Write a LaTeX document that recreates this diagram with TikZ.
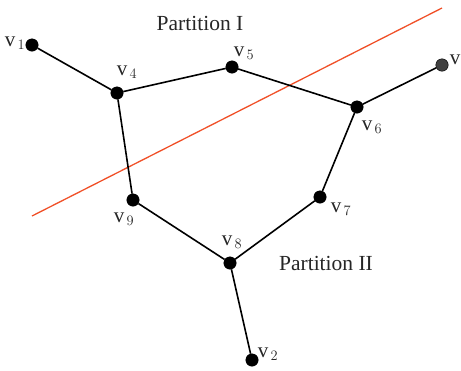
\documentclass[tikz,border=0pt]{standalone}
\usepackage{fontspec}
\setmainfont{Liberation Serif}
\begin{document}
\begin{tikzpicture}[x=1pt,y=-1pt,
  vtx/.style={circle,fill=black,draw=black,inner sep=0pt,minimum size=12.5pt},
  edge/.style={line width=1.6pt,black},
  cut/.style={line width=1.3pt,color={rgb,255:red,240;green,80;blue,40}},
  lab/.style={font=\fontsize{21}{24}\selectfont,inner sep=0pt,text=black!85},
  part/.style={font=\fontsize{21.5}{24}\selectfont,inner sep=0pt,text=black!85}]
\useasboundingbox (0,0) rectangle (461,370);
\clip (0,0) rectangle (461,370);
\node[vtx] (v1) at (32,45) {};
\node[vtx] (v4) at (117,93) {};
\node[vtx] (v5) at (232,67) {};
\node[vtx] (v6) at (357,107) {};
\node[vtx,fill=black!75] (v3) at (442,65) {};
\node[vtx] (v7) at (320,197) {};
\node[vtx] (v8) at (230,263) {};
\node[vtx] (v9) at (133,200) {};
\node[vtx] (v2) at (252,360) {};
\coordinate (c1) at (32,216);
\coordinate (c2) at (442,8);
\draw[cut] (c1) -- (c2);
\draw[edge] (v1) -- (v4) -- (v5) -- (v6) -- (v3);
\draw[edge] (v4) -- (v9) -- (v8) -- (v7) -- (v6);
\draw[edge] (v8) -- (v2);
\node[lab] (l1) at (15,43) {v$_{\,1}$};
\node[lab] (l4) at (127,72) {v$_{\,4}$};
\node[lab] (l5) at (244,53) {v$_{\,5}$};
\node[lab] (l6) at (372,127) {v$_{\,6}$};
\node[lab] (l3) at (460,61) {v$_{\,3}$};
\node[lab] (l7) at (341,209) {v$_{\,7}$};
\node[lab] (l8) at (232,242) {v$_{\,8}$};
\node[lab] (l9) at (124,219) {v$_{\,9}$};
\node[lab] (l2) at (268,354) {v$_{\,2}$};
\node[part] (p1) at (200,23) {Partition I};
\node[part] (p2) at (326,263) {Partition II};
\end{tikzpicture}
\end{document}
